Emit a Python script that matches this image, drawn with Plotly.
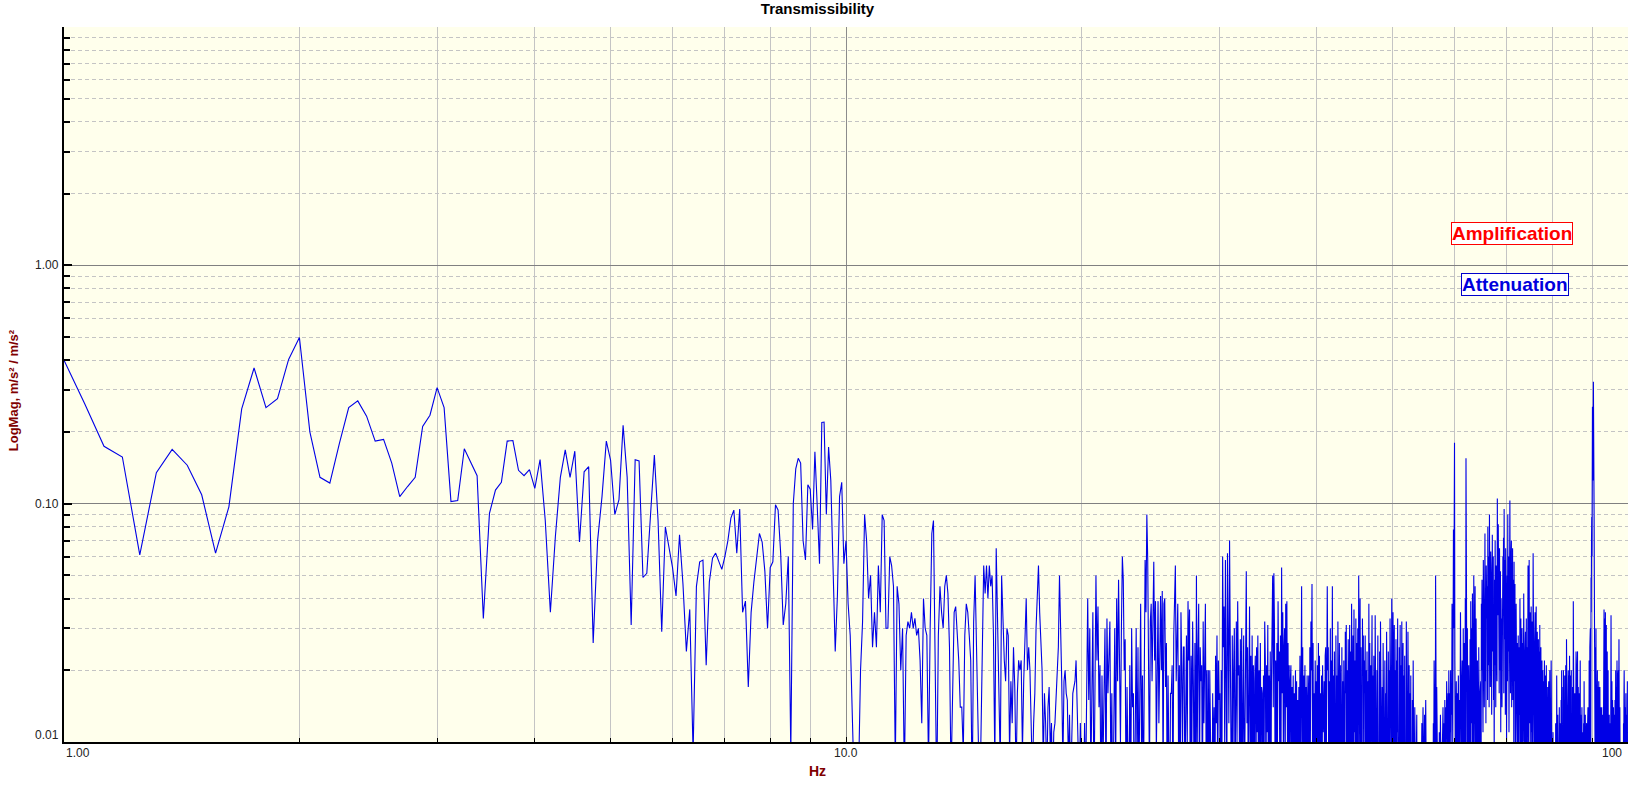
import numpy as np
import plotly.graph_objects as go

FONT = "Arial, Liberation Sans, sans-serif"
AXIS_RED = "#800000"
LINE_BLUE = "#0000E6"

# FFT bins: first bin 1.0 Hz, spacing 1/16 Hz, last bin 100 Hz
FREQ_START = 1.0
FREQ_STEP = 0.0625

# transmissibility magnitude, in thousandths (x 1e-3)
# one row = one Hz worth of bins
mag_1_10 = [
    400, 263, 174, 157, 61, 135, 169, 145, 109, 62, 97, 250, 371, 253, 276, 403, 498,
    200, 129, 122, 179, 253, 270, 233, 183, 186, 148, 107, 118, 129, 211, 235, 307,
    253, 102, 103, 170, 150, 131, 33, 91, 114, 123, 183, 184, 138, 131, 139, 116,
    153, 85, 35, 73, 129, 168, 129, 166, 69, 136, 143, 26, 70, 107, 183, 152,
    90, 104, 213, 129, 31, 153, 151, 49, 51, 94, 160, 85, 29, 80, 66, 54,
    41, 74, 46, 24, 36, 9, 45, 57, 58, 21, 47, 59, 62, 57, 53, 60,
    70, 87, 94, 62, 95, 35, 39, 17, 35, 47, 58, 75, 69, 52, 30, 54,
    57, 99, 94, 62, 31, 38, 60, 9, 100, 140, 155, 148, 70, 58, 120, 115,
    78, 165, 98, 56, 219, 220, 90, 173, 125, 50, 24, 41, 107, 123, 56, 70,
]

mag_10_20 = [
    38, 28, 12, 6, 9, 7, 20, 32, 90, 70, 40, 50, 25, 35, 25, 55,
    35, 90, 85, 30, 30, 60, 55, 45, 8, 45, 38, 20, 30, 7, 28, 32,
    30, 35, 30, 33, 28, 30, 22, 12, 40, 30, 28, 8, 30, 75, 85, 25,
    6, 28, 45, 35, 30, 45, 50, 42, 25, 7, 15, 35, 37, 28, 22, 14,
    14, 9, 28, 38, 35, 28, 22, 6, 32, 50, 20, 9, 6, 10, 30, 55,
    42, 55, 40, 55, 45, 50, 28, 8, 65, 35, 18, 8, 50, 30, 22, 18,
    30, 28, 9, 18, 12, 25, 17, 7, 16, 22, 20, 22, 9, 18, 25, 40,
    20, 25, 20, 11, 7, 12, 16, 30, 40, 55, 35, 28, 20, 8, 16, 12,
    7, 14, 17, 9, 12, 6, 11, 12, 15, 20, 25, 50, 32, 18, 8, 18,
    20, 16, 15, 8, 13, 6, 10, 16, 17, 18, 22, 15, 9, 6, 12, 7,
]

mag_20_30 = [
    9, 5, 12, 6, 16, 40, 15, 30, 7, 16, 35, 5, 28, 50, 22, 37,
    14, 21, 5, 19, 8, 21, 30, 6, 33, 16, 25, 32, 7, 16, 4, 17,
    30, 8, 40, 18, 48, 22, 10, 30, 60, 48, 20, 27, 5, 17, 9, 4,
    21, 5, 30, 14, 16, 4, 11, 30, 7, 25, 6, 23, 38, 9, 19, 5,
    12, 58, 35, 90, 58, 25, 7, 32, 38, 18, 30, 57, 22, 39, 9, 25,
    39, 12, 25, 41, 20, 43, 6, 38, 40, 17, 26, 5, 19, 9, 4, 16,
    16, 21, 5, 28, 48, 55, 18, 30, 38, 8, 21, 4, 35, 20, 9, 25,
    25, 6, 16, 28, 9, 39, 22, 36, 4, 23, 10, 32, 17, 6, 26, 5,
    50, 9, 25, 38, 6, 25, 18, 21, 5, 32, 12, 24, 38, 8, 20, 4,
    20, 5, 20, 9, 6, 3, 16, 7, 14, 4, 23, 12, 28, 6, 22, 15,
]

mag_30_40 = [
    16, 5, 20, 8, 60, 25, 37, 9, 58, 32, 6, 62, 30, 12, 70, 16,
    16, 4, 28, 9, 20, 30, 6, 28, 32, 10, 39, 19, 21, 5, 27, 8,
    30, 6, 20, 28, 5, 16, 45, 52, 12, 25, 6, 21, 37, 9, 23, 4,
    28, 8, 21, 4, 18, 23, 6, 25, 11, 28, 5, 20, 9, 26, 7, 17,
    16, 4, 19, 8, 32, 22, 6, 21, 11, 31, 5, 19, 9, 24, 4, 18,
    39, 50, 14, 51, 30, 7, 22, 5, 26, 10, 39, 18, 24, 6, 28, 9,
    54, 16, 35, 8, 25, 30, 6, 38, 14, 39, 10, 26, 4, 21, 7, 18,
    21, 5, 17, 8, 19, 4, 16, 7, 20, 10, 18, 5, 15, 6, 17, 8,
    23, 6, 16, 45, 9, 25, 4, 19, 10, 21, 5, 17, 8, 19, 4, 15,
    19, 7, 25, 10, 32, 20, 46, 8, 26, 5, 16, 9, 22, 4, 18, 7,
]

mag_40_50 = [
    21, 6, 26, 10, 23, 4, 16, 8, 19, 5, 21, 11, 13, 18, 4, 23,
    25, 7, 16, 45, 20, 25, 5, 18, 8, 30, 4, 22, 10, 45, 6, 19,
    5, 24, 11, 3, 28, 8, 19, 4, 32, 17, 6, 26, 5, 21, 9, 4,
    25, 7, 18, 3, 22, 10, 5, 29, 16, 31, 4, 20, 8, 27, 3, 17,
    31, 9, 24, 4, 38, 19, 7, 28, 3, 36, 11, 22, 5, 33, 10, 26,
    8, 30, 4, 50, 21, 10, 40, 6, 25, 17, 3, 33, 19, 28, 5, 22,
    16, 28, 4, 20, 8, 24, 3, 18, 7, 38, 10, 26, 4, 21, 9, 17,
    34, 6, 19, 3, 23, 10, 5, 34, 17, 25, 4, 20, 8, 28, 4, 15,
    7, 24, 3, 32, 15, 20, 5, 17, 3, 26, 9, 19, 4, 22, 6, 16,
    4, 29, 8, 18, 3, 24, 10, 20, 5, 33, 16, 27, 7, 40, 19, 9,
]

mag_50_60 = [
    35, 6, 24, 31, 4, 20, 9, 27, 3, 22, 11, 33, 5, 18, 7, 25,
    10, 31, 4, 21, 8, 32, 5, 17, 26, 3, 19, 7, 23, 4, 15, 6,
    32, 8, 18, 4, 29, 10, 5, 21, 3, 16, 7, 19, 3, 13, 5, 15,
    6, 22, 4, 12, 3, 14, 5, 11, 3, 9, 13, 4, 10, 3, 7, 4,
    4, 6, 3, 5, 7, 4, 8, 12, 6, 10, 14, 7, 5, 9, 13, 6,
    11, 15, 8, 4, 6, 3, 5, 2, 4, 6, 3, 5, 4, 7, 9, 5,
    3, 6, 4, 8, 5, 12, 7, 22, 10, 16, 6, 50, 14, 9, 17, 5,
    12, 7, 4, 9, 6, 11, 5, 8, 13, 6, 10, 4, 7, 12, 9, 14,
    9, 5, 12, 7, 15, 10, 6, 14, 8, 18, 11, 13, 9, 16, 7, 20,
    12, 9, 16, 11, 20, 8, 15, 13, 38, 17, 10, 22, 78, 30, 60, 180,
]

mag_60_70 = [
    22, 7, 14, 5, 18, 12, 6, 16, 4, 13, 19, 8, 5, 15, 7, 14,
    35, 9, 28, 6, 18, 22, 10, 5, 30, 8, 20, 26, 6, 16, 40, 9,
    155, 20, 120, 10, 30, 8, 24, 5, 21, 10, 17, 7, 27, 5, 39, 12,
    22, 30, 8, 42, 18, 26, 6, 50, 20, 35, 10, 45, 24, 7, 33, 14,
    28, 7, 22, 12, 19, 5, 25, 9, 21, 6, 16, 8, 18, 4, 38, 20,
    48, 16, 35, 11, 58, 22, 42, 14, 30, 75, 18, 40, 12, 55, 24, 33,
    45, 15, 80, 36, 21, 60, 14, 90, 38, 50, 17, 63, 26, 44, 13, 52,
    74, 24, 40, 60, 15, 35, 8, 48, 21, 70, 28, 14, 55, 23, 45, 18,
    105, 34, 60, 82, 26, 47, 16, 65, 31, 20, 52, 11, 40, 24, 33, 14,
    45, 22, 60, 34, 72, 16, 95, 38, 27, 58, 13, 65, 25, 37, 10, 48,
]

mag_70_80 = [
    50, 18, 90, 31, 24, 60, 11, 44, 21, 103, 34, 16, 55, 26, 70, 14,
    40, 21, 65, 15, 28, 48, 10, 57, 24, 18, 46, 8, 35, 16, 38, 12,
    30, 9, 26, 15, 6, 28, 11, 22, 7, 25, 13, 40, 17, 10, 33, 6,
    24, 8, 30, 14, 5, 26, 10, 20, 42, 12, 27, 6, 22, 11, 29, 7,
    15, 33, 10, 25, 5, 45, 16, 55, 13, 30, 8, 58, 20, 12, 35, 9,
    28, 8, 37, 16, 11, 32, 5, 26, 14, 62, 18, 10, 30, 7, 24, 12,
    35, 9, 26, 14, 37, 6, 22, 11, 29, 4, 20, 9, 27, 7, 17, 24,
    10, 31, 5, 19, 8, 25, 4, 17, 7, 22, 4, 15, 20, 6, 13, 18,
    5, 16, 22, 4, 14, 7, 19, 3, 13, 21, 5, 15, 4, 12, 17, 6,
    14, 4, 18, 7, 3, 13, 20, 5, 15, 3, 12, 22, 4, 10, 16, 3,
]

mag_80_90 = [
    8, 4, 11, 3, 7, 9, 2, 6, 10, 3, 8, 2, 12, 5, 9, 3,
    19, 5, 10, 3, 13, 6, 4, 11, 2, 9, 14, 4, 8, 12, 3, 10,
    5, 15, 7, 20, 4, 18, 9, 5, 17, 3, 20, 10, 6, 14, 4, 19,
    8, 16, 4, 21, 11, 5, 27, 13, 6, 18, 9, 4, 14, 20, 5, 12,
    19, 5, 23, 9, 15, 4, 19, 8, 13, 20, 5, 16, 10, 6, 17, 9,
    4, 39, 12, 6, 18, 5, 13, 16, 3, 11, 6, 15, 24, 8, 4, 13,
    20, 6, 24, 10, 4, 17, 8, 15, 5, 16, 9, 3, 14, 22, 6, 13,
    5, 12, 4, 10, 14, 3, 9, 5, 11, 2, 8, 12, 4, 18, 7, 5,
    10, 3, 13, 5, 2, 9, 4, 12, 2, 8, 3, 11, 5, 14, 7, 4,
    12, 6, 22, 11, 7, 25, 13, 30, 16, 10, 49, 35, 70, 88, 60, 120,
]

mag_90_100 = [
    255, 140, 125, 200, 325, 260, 150, 90, 48, 35, 20, 9, 25, 6, 15, 30,
    11, 16, 4, 13, 6, 20, 5, 12, 17, 3, 10, 18, 6, 14, 4, 11,
    17, 6, 4, 14, 5, 12, 3, 10, 14, 5, 3, 11, 6, 13, 4, 9,
    14, 20, 36, 9, 25, 33, 5, 18, 35, 12, 28, 7, 31, 4, 19, 10,
    24, 6, 16, 4, 20, 9, 3, 15, 6, 13, 3, 10, 5, 12, 2, 9,
    14, 34, 8, 22, 5, 18, 11, 4, 15, 6, 12, 3, 14, 5, 11, 4,
    13, 4, 10, 15, 5, 12, 20, 6, 17, 9, 4, 14, 22, 7, 16, 5,
    18, 9, 20, 4, 15, 27, 8, 19, 5, 14, 3, 10, 3, 6, 2, 7,
    4, 2, 6, 3, 10, 2, 5, 9, 2, 4, 12, 6, 15, 20, 9, 17,
    20, 6, 14, 4, 11, 16, 5, 13, 3, 10, 5, 12, 18, 4, 9, 3,
]

mag = np.array(mag_1_10 + mag_10_20 + mag_20_30 + mag_30_40 + mag_40_50 +
               mag_50_60 + mag_60_70 + mag_70_80 + mag_80_90 + mag_90_100) / 1000.0
freq = FREQ_START + FREQ_STEP * np.arange(len(mag))

fig = go.Figure()
fig.add_trace(go.Scatter(
    x=freq,
    y=mag,
    mode="lines",
    line=dict(color=LINE_BLUE, width=1.1),
    name="Transmissibility",
    showlegend=False
))

x_minor = [2, 3, 4, 5, 6, 7, 8, 9, 20, 30, 40, 50, 60, 70, 80, 90]
y_minor = [0.02, 0.03, 0.04, 0.05, 0.06, 0.07, 0.08, 0.09,
           0.2, 0.3, 0.4, 0.5, 0.6, 0.7, 0.8, 0.9,
           2, 3, 4, 5, 6, 7, 8, 9]

fig.update_xaxes(
    type="log",
    range=[0, 2],
    tickvals=[1, 10, 100],
    showticklabels=False,
    ticks="inside", ticklen=5, tickcolor="black",
    showgrid=True, gridcolor="#8c8c8c", gridwidth=1,
    minor=dict(tickvals=x_minor, showgrid=True, gridcolor="#c4c4c4", gridwidth=1,
               ticks="inside", ticklen=4, tickcolor="black"),
    showline=True, linecolor="black", linewidth=2,
    zeroline=False
)
fig.update_yaxes(
    type="log",
    range=[-2, 1],
    tickvals=[0.01, 0.1, 1, 10],
    showticklabels=False,
    ticks="inside", ticklen=8, tickcolor="black", tickwidth=2,
    showgrid=True, gridcolor="#808080", gridwidth=1,
    minor=dict(tickvals=y_minor, showgrid=True, gridcolor="#c4c4c4", gridwidth=1,
               griddash="4px,3px", ticks="inside", ticklen=6, tickcolor="black", tickwidth=2),
    showline=True, linecolor="black", linewidth=2,
    zeroline=False
)

tick_font = dict(family=FONT, size=12, color="#222222")
annotations = [
    # x tick labels
    dict(x=0, y=0, xref="x", yref="paper", text="1.00", showarrow=False,
         xanchor="left", yanchor="top", yshift=-2, font=tick_font),
    dict(x=1, y=0, xref="x", yref="paper", text="10.0", showarrow=False,
         xanchor="center", yanchor="top", yshift=-2, font=tick_font),
    dict(x=2, y=0, xref="x", yref="paper", text="100", showarrow=False,
         xanchor="right", yanchor="top", xshift=-4, yshift=-2, font=tick_font),
    # y tick labels
    dict(x=0, y=0, xref="paper", yref="y", text="1.00", showarrow=False,
         xanchor="right", yanchor="middle", xshift=-3, font=tick_font),
    dict(x=0, y=-1, xref="paper", yref="y", text="0.10", showarrow=False,
         xanchor="right", yanchor="middle", xshift=-3, font=tick_font),
    dict(x=0, y=-2, xref="paper", yref="y", text="0.01", showarrow=False,
         xanchor="right", yanchor="bottom", xshift=-3, yshift=-2, font=tick_font),
    # axis titles
    dict(x=0.4815, y=-0.0406, xref="paper", yref="paper", text="<b>Hz</b>", showarrow=False,
         xanchor="center", yanchor="middle", font=dict(family=FONT, size=14, color=AXIS_RED)),
    dict(x=-0.0326, y=0.492, xref="paper", yref="paper", text="<b>LogMag, m/s² / m/s²</b>",
         showarrow=False, textangle=-90, xanchor="center", yanchor="middle",
         font=dict(family=FONT, size=13, color=AXIS_RED)),
    # region labels
    dict(x=0.926, y=0.7105, xref="paper", yref="paper", text="<b>Amplification</b>",
         showarrow=False, xanchor="center", yanchor="middle",
         font=dict(family=FONT, size=19, color="#ff0000"),
         bgcolor="white", bordercolor="#ff0000", borderwidth=1, borderpad=0),
    dict(x=0.928, y=0.64, xref="paper", yref="paper", text="<b>Attenuation</b>",
         showarrow=False, xanchor="center", yanchor="middle",
         font=dict(family=FONT, size=19, color="#0000dd"),
         bgcolor="white", bordercolor="#0000cc", borderwidth=1, borderpad=0),
]

fig.update_layout(
    title=dict(text="<b>Transmissibility</b>", x=0.5, xref="container", xanchor="center",
               y=1 - 9 / 785, yref="container", yanchor="middle",
               font=dict(family=FONT, size=15, color="black")),
    width=1635,
    height=785,
    margin=dict(l=64, r=7, t=27, b=43),
    paper_bgcolor="white",
    plot_bgcolor="#ffffec",
    font=dict(family=FONT),
    annotations=annotations,
    showlegend=False
)

# page body has a default 8px margin; drop it so the figure sits at the window origin
fig.write_html("out.html", config={"displayModeBar": False},
               post_script="document.body.style.margin = '0';")
